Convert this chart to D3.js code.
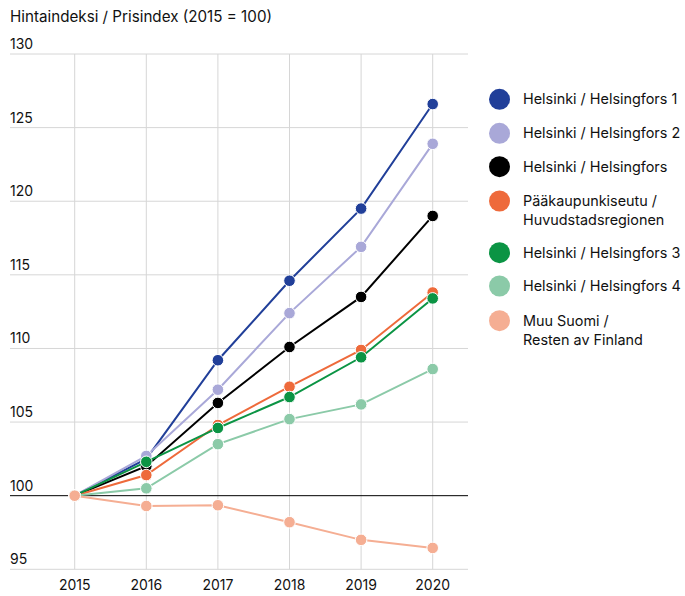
<!DOCTYPE html>
<html><head><meta charset="utf-8">
<script src="https://cdn.jsdelivr.net/npm/d3@7"></script>
<style>body{margin:0;background:#fff}svg{display:block}text{font-family:Inter,"Noto Sans",sans-serif;fill:#111}</style>
</head><body><svg id="c" width="685" height="596"></svg>
<script>
const years = [2015, 2016, 2017, 2018, 2019, 2020];
const yTicks = [95, 100, 105, 110, 115, 120, 125, 130];
const seriesNames = ["Helsinki / Helsingfors 1", "Helsinki / Helsingfors 2", "Helsinki / Helsingfors", "Pääkaupunkiseutu / Huvudstadsregionen", "Helsinki / Helsingfors 3", "Helsinki / Helsingfors 4", "Muu Suomi / Resten av Finland"];
const legendLines = [["Helsinki / Helsingfors 1"], ["Helsinki / Helsingfors 2"], ["Helsinki / Helsingfors"], ["Pääkaupunkiseutu /", "Huvudstadsregionen"], ["Helsinki / Helsingfors 3"], ["Helsinki / Helsingfors 4"], ["Muu Suomi /", "Resten av Finland"]];
const colors = ["#213f99", "#a9a8d8", "#000000", "#ee6a3b", "#0b9444", "#8bcaa8", "#f5ae93"];
const helsinki1 = [100, 102.5, 109.2, 114.6, 119.5, 126.6];
const helsinki2 = [100, 102.7, 107.2, 112.4, 116.9, 123.9];
const helsinki = [100, 102.0, 106.3, 110.1, 113.5, 119.0];
const paakaupunkiseutu = [100, 101.4, 104.8, 107.4, 109.9, 113.8];
const helsinki3 = [100, 102.3, 104.6, 106.7, 109.4, 113.4];
const helsinki4 = [100, 100.5, 103.5, 105.2, 106.2, 108.6];
const muuSuomi = [100, 99.3, 99.35, 98.2, 97.0, 96.45];
const values = [helsinki1, helsinki2, helsinki, paakaupunkiseutu, helsinki3, helsinki4, muuSuomi];

const svg = d3.select("#c");
const x = d3.scalePoint().domain(years).range([74.7, 432.7]);
const y = d3.scaleLinear().domain([95, 130]).range([569.3, 54]);
const left = 10, right = 468;

svg.append("text").attr("x", 10).attr("y", 22).attr("font-size", 15.2).text("Hintaindeksi / Prisindex (2015 = 100)");

// grid
const g = svg.append("g");
g.selectAll(".vg").data(years).join("line")
  .attr("x1", d => x(d)).attr("x2", d => x(d)).attr("y1", y(130)).attr("y2", y(95))
  .attr("stroke", "#d6d6d6").attr("stroke-width", 1);
g.selectAll(".hg").data(yTicks).join("line")
  .attr("x1", left).attr("x2", right).attr("y1", d => y(d)).attr("y2", d => y(d))
  .attr("stroke", d => d === 100 ? "#000" : "#d6d6d6").attr("stroke-width", 1);
g.selectAll(".yl").data(yTicks).join("text")
  .attr("x", left).attr("y", d => y(d) - 5).attr("font-size", 14).text(d => d);
g.selectAll(".xl").data(years).join("text")
  .attr("x", d => x(d)).attr("y", 590).attr("text-anchor", "middle").attr("font-size", 14).text(d => d);

const line = d3.line().x((d, i) => x(years[i])).y(d => y(d));
values.forEach((vals, si) => {
  const s = svg.append("g");
  s.append("path").attr("d", line(vals)).attr("fill", "none").attr("stroke", colors[si]).attr("stroke-width", 2);
  s.selectAll("circle").data(vals).join("circle")
    .attr("cx", (d, i) => x(years[i])).attr("cy", d => y(d)).attr("r", 5.8)
    .attr("fill", colors[si]).attr("stroke", "#fff").attr("stroke-width", 1);
});

// legend
const legY = [99.3, 133.3, 166.7, 201, 252.7, 286, 320.7];
const lg = svg.append("g");
seriesNames.forEach((n, i) => {
  lg.append("circle").attr("cx", 499.5).attr("cy", legY[i]).attr("r", 10.5).attr("fill", colors[i]);
  legendLines[i].forEach((t, j) => {
    lg.append("text").attr("x", 523).attr("y", legY[i] + 5 + j * 19).attr("font-size", 14.4).text(t);
  });
});
</script></body></html>
